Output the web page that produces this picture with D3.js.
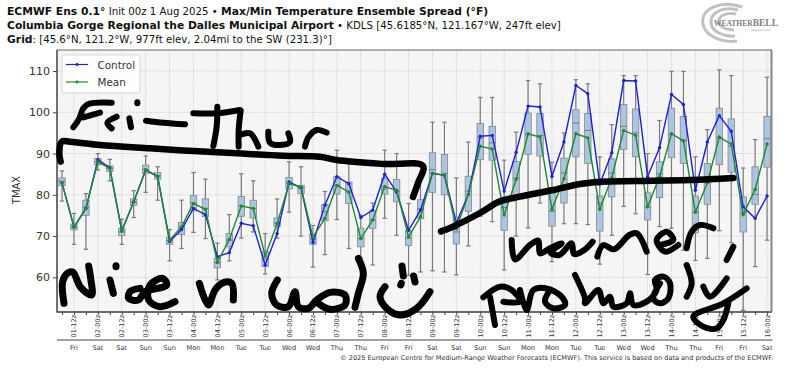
<!DOCTYPE html>
<html><head><meta charset="utf-8">
<script src="https://cdn.jsdelivr.net/npm/d3@7/dist/d3.min.js"></script>
<style>html,body{margin:0;padding:0;background:#fff}svg{display:block}text{font-family:"DejaVu Sans",sans-serif}</style>
</head><body><svg id="c" width="786" height="371"></svg>
<script>
const tickLabels=["01-12z","02-00z","02-12z","03-00z","03-12z","04-00z","04-12z","05-00z","05-12z","06-00z","06-12z","07-00z","07-12z","08-00z","08-12z","09-00z","09-12z","10-00z","10-12z","11-00z","11-12z","12-00z","12-12z","13-00z","13-12z","14-00z","14-12z","15-00z","15-12z","16-00z"];
const dayLabels=["Fri","Sat","Sat","Sun","Sun","Mon","Mon","Tue","Tue","Wed","Wed","Thu","Thu","Fri","Fri","Sat","Sat","Sun","Sun","Mon","Mon","Tue","Tue","Wed","Wed","Thu","Thu","Fri","Fri","Sat"];
const yTicks=[60,70,80,90,100,110];
const control=[82.9,72.2,76.7,88.5,86.6,71.3,78.3,86,84.5,68.7,71.6,76.7,75.2,65,66,73.1,72.5,63,70.6,83.1,81.7,68.5,77.5,84.4,82.7,74.5,76.3,85,80.7,71.4,76.3,85.2,84.7,73.2,80.1,94.2,94.4,80.9,90.3,101.5,101.3,84.5,92.8,106.5,104.5,82.5,90.2,107.7,107.6,84.4,91.4,104.3,101.9,81.1,92.8,99.2,95.4,77.1,74.3,79.7];
const mean=[82.9,72.2,76.7,88,86.4,71.3,78.3,86,84.5,69,72.3,77.9,76.5,63.6,69.2,77.3,76.7,65.2,73,82.7,81.9,69.7,74.3,82.3,80.7,69.4,73.9,82,81.1,69.8,74.7,85.2,84.7,71.8,80.1,91.8,91.1,75.1,83.7,94.8,94,76.5,83.9,94.8,93.8,76.5,84.1,95.6,94.4,77.1,84.4,94.8,93.1,75.8,82.9,94,92.3,75.2,81.3,92.3];
const median=[83.3,72.2,77,88,86.4,71,78.2,86.2,84.6,68.9,72,78,76.7,63.6,69,77.3,76.7,64.5,73.2,82.7,81.6,69.3,75.9,82.3,80.7,69.4,73.9,81.4,80.9,69.5,76.6,86.1,85.2,71,80.9,93.8,92.6,76.9,84.1,94.6,94.4,76,85.3,97.4,95.6,78,85.3,96.6,95,77.1,85.1,94.6,93.1,75.8,82.9,93.8,91.8,75.6,80.1,93.6];
const q1=[82.2,71.5,75,87.3,85.7,70.1,77.4,85.2,83.8,68,70.4,76.1,74.7,62.3,67.4,74.8,74.4,62.6,72.3,81.4,80.3,68,73.7,80.2,77.9,67.4,71.9,80.2,78.3,67.7,74.2,80.6,80,68.1,76,88.5,88.4,71.4,79.8,89.8,89.4,72.4,78,89.2,87.6,71.2,79.5,91,89.2,73.9,79.3,89,87.6,70.8,77.7,87.3,85.5,71,77.7,86.7];
const q3=[84.1,72.9,78.7,88.8,87,71.9,79,87.2,85.4,69.7,73.3,79.8,79,64.7,70.6,79.6,78.7,66.2,74.4,84.2,82.3,70.6,77.7,84.4,83.1,71.9,76.1,84,83.7,71.3,78.8,90.2,89.8,74.6,84.5,97.3,96.6,79.4,88.1,99.8,99.7,80.5,88.9,100.6,99.7,79.7,88.7,101.9,100.8,80.5,88,101,99,79.7,87.6,101,98.4,79.5,86.8,99];
const whiskLow=[78.5,68,66.8,86,83.4,68,74.5,80.6,78.7,64,67,70.9,69.4,59.4,64,69.5,71,60.8,69.5,75.8,70,62.5,65.5,74,67,64.7,63,74.3,70.2,60.5,61.3,61.6,61.3,60.6,67.6,74.8,73.5,61.8,70,72,78,63.8,73,73,72.8,63.2,70.2,77.2,75.4,60.7,72.3,71.9,66.6,64.1,64.6,71.3,68.4,52,62.6,69];
const whiskHigh=[85.8,75.5,80.3,90,88.6,74.1,81,89.4,86.8,71.6,78.7,85.4,83.8,68.3,75.2,85.1,83.4,70.6,79,88,86.8,72.6,80.8,90.8,88,75,78,90.8,90,77.9,84,97.6,97.6,84.1,92.8,103.6,103.6,88.4,95.2,107.7,106.9,87.9,95,107.9,106.9,89.2,97,108.9,108.9,90,98,109.9,109.9,89.2,95.8,110.3,108.9,86.5,93.4,108.5];

// Hand-drawn annotations, traced in reference crops: each entry is a crop origin then pen strokes.
const inkBracket=[[50,90],[[32,215],[28,190],[35,155],[60,155],[150,165],[300,175],[430,183],[560,190],[700,197],[810,200],[860,210],[1000,222],[1119,228],[1104,279],[1089,321]]];
const inkFriThur=[[50,90],[[70,112],[88,85],[100,55],[115,42],[185,38]],[[100,82],[150,68]],[[185,115],[172,98],[200,80]],[[243,112],[238,85]],[[262,37],[262,40]],[[288,92],[340,98],[405,103]],[[430,70],[500,70],[570,60]],[[502,50],[500,110],[490,168]],[[572,62],[566,120],[566,170]],[[570,135],[600,130],[625,170]],[[655,125],[660,158],[690,165],[720,155],[715,130]],[[765,170],[775,142],[800,120],[830,128]]];
const inkNice=[[50,250],[[42,160],[38,95],[52,70],[68,66],[92,112],[125,135],[122,85],[116,48]],[[190,130],[180,90]],[[198,47],[198,50]],[[270,115],[240,125],[236,145],[265,150],[285,125],[350,105],[338,85],[300,105],[296,150],[330,170],[375,155]],[[448,100],[475,165],[495,120],[520,98],[545,100],[550,150]],[[682,90],[665,130],[680,165],[715,170],[735,125],[745,170],[775,175],[800,150],[840,127],[885,135],[885,165],[840,178],[805,160]],[[925,25],[940,70],[925,130],[915,172]],[[1056,48],[1060,78]],[[1091,78],[1095,96]],[[1052,105],[1054,100]],[[1005,110],[990,140],[1010,175],[1050,195],[1100,175],[1140,125]]];
const inkWarmLine=[[470,190],[[-87,124],[-51,110],[30,69],[90,34],[150,20],[250,0],[330,-18],[390,-25],[500,-27],[660,-30],[790,-36]]];
const inkWarmer=[[470,190],[[125,150],[135,208],[180,165],[205,152],[210,190],[240,175],[275,160],[242,188],[268,195],[305,160],[312,192],[340,182],[368,155]],[[382,200],[400,165],[432,178],[478,135],[500,130],[530,185]],[[570,165],[610,150],[590,125],[560,150],[585,185],[625,165]],[[650,175],[665,125],[690,105],[730,115]],[[790,170],[770,210]]];
const inkProbably=[[470,190],[[40,322],[90,290],[125,300],[150,335],[100,335]],[[60,320],[75,405]],[[150,300],[170,360],[190,300],[230,295],[275,320],[285,345],[250,355],[225,335],[240,300]],[[315,255],[345,325],[345,340],[385,300],[400,340],[420,320],[430,350],[470,340],[480,310],[490,345],[530,335],[560,300],[555,270],[580,260],[600,280],[595,325],[570,340],[550,325],[570,280]],[[650,225],[665,280],[650,320]],[[700,290],[720,320],[770,265]],[[830,295],[760,340],[670,380],[700,410],[740,415],[760,390],[775,340]]];

const svg=d3.select("#c");
const pLeft=57,pRight=771.5,pTop=50,pBottom=312;
const n=control.length,idx=d3.range(n);
const x=d3.scaleLinear().domain([-0.42,59.37]).range([pLeft,pRight]);
const y=d3.scaleLinear().domain([51.6,115.1]).range([pBottom,pTop]);

svg.append("rect").attr("x",pLeft).attr("y",pTop).attr("width",pRight-pLeft).attr("height",pBottom-pTop).attr("fill","#f5f5f5");
const labelIdx=tickLabels.map((_,k)=>2*k+1);
svg.append("g").selectAll("line").data(labelIdx).join("line").attr("x1",d=>x(d)).attr("x2",d=>x(d)).attr("y1",pTop).attr("y2",pBottom).attr("stroke","#cfcfcf").attr("stroke-dasharray","1.2,1.2");
svg.append("g").selectAll("line").data(yTicks).join("line").attr("x1",pLeft).attr("x2",pRight).attr("y1",d=>y(d)).attr("y2",d=>y(d)).attr("stroke","#cfcfcf").attr("stroke-dasharray","1.2,1.2");

// whiskers
const wh=svg.append("g").attr("stroke","#7a7a7a").attr("stroke-width",1.2);
wh.selectAll("line.v").data(idx).join("line").attr("class","v").attr("x1",i=>x(i)).attr("x2",i=>x(i)).attr("y1",i=>y(whiskLow[i])).attr("y2",i=>y(whiskHigh[i]));
wh.selectAll("line.h").data(idx).join("line").attr("class","h").attr("x1",i=>x(i)-2.2).attr("x2",i=>x(i)+2.2).attr("y1",i=>y(whiskHigh[i])).attr("y2",i=>y(whiskHigh[i]));
wh.selectAll("line.l").data(idx).join("line").attr("class","l").attr("x1",i=>x(i)-2.2).attr("x2",i=>x(i)+2.2).attr("y1",i=>y(whiskLow[i])).attr("y2",i=>y(whiskLow[i]));
// boxes
svg.append("g").selectAll("rect").data(idx).join("rect").attr("x",i=>x(i)-3.2).attr("width",6.4).attr("y",i=>y(q3[i])).attr("height",i=>y(q1[i])-y(q3[i])).attr("fill","#adc4e0").attr("stroke","#808890").attr("stroke-width",0.8);
svg.append("g").selectAll("line").data(idx).join("line").attr("x1",i=>x(i)-3.2).attr("x2",i=>x(i)+3.2).attr("y1",i=>y(median[i])).attr("y2",i=>y(median[i])).attr("stroke","#5f6670").attr("stroke-width",0.8);

// lines
function series(vals,col){
  const l=d3.line().x(i=>x(i)).y(i=>y(vals[i]));
  svg.append("path").datum(idx).attr("d",l).attr("fill","none").attr("stroke",col).attr("stroke-width",1.4);
  svg.append("g").selectAll("circle").data(idx).join("circle").attr("cx",i=>x(i)).attr("cy",i=>y(vals[i])).attr("r",1.7).attr("fill",col);
}
series(control,"#1f1fd8");
series(mean,"#1d8a2e");

// frame
svg.append("rect").attr("x",pLeft).attr("y",pTop).attr("width",pRight-pLeft).attr("height",pBottom-pTop).attr("fill","none").attr("stroke","#666").attr("stroke-width",1);
svg.append("path").attr("d",`M${pLeft},${pTop}V${pBottom}H${pRight}`).attr("fill","none").attr("stroke","#555").attr("stroke-width",1.4);
svg.append("line").attr("x1",pRight).attr("x2",pRight).attr("y1",pTop).attr("y2",pBottom).attr("stroke","#888").attr("stroke-width",2);

// axes
const ya=svg.append("g").attr("transform",`translate(${pLeft},0)`).call(d3.axisLeft(y).tickValues(yTicks).tickSize(4).tickPadding(3));
ya.select(".domain").remove();ya.selectAll("line").attr("stroke","#444");ya.selectAll("text").attr("font-size",11).attr("fill","#333");
const xa=svg.append("g").attr("transform",`translate(0,${pBottom})`).call(d3.axisBottom(x).tickValues(idx).tickSize(3).tickFormat(""));
xa.select(".domain").remove();xa.selectAll("line").attr("stroke","#444");
svg.append("g").selectAll("text").data(tickLabels).join("text").attr("transform",(d,k)=>`translate(${x(labelIdx[k])+2.5},337.5) rotate(-90)`).attr("font-size",6.6).attr("fill","#333").text(d=>d);
svg.append("line").attr("x1",pLeft).attr("x2",pRight+1).attr("y1",340).attr("y2",340).attr("stroke","#444").attr("stroke-width",1);
svg.append("g").selectAll("text").data(dayLabels).join("text").attr("x",(d,k)=>x(labelIdx[k])).attr("y",350).attr("text-anchor","middle").attr("font-size",6.6).attr("fill","#333").text(d=>d);
svg.append("text").attr("x",773).attr("y",360).attr("text-anchor","end").attr("font-size",6.55).attr("fill","#333").text("© 2025 European Centre for Medium-Range Weather Forecasts (ECMWF). This service is based on data and products of the ECMWF.");
svg.append("text").attr("transform","translate(20,190) rotate(-90)").attr("text-anchor","middle").attr("font-size",10).attr("fill","#333").text("TMAX");

// titles
function title(yPos,parts){
  const t=svg.append("text").attr("x",7).attr("y",yPos).attr("fill","#111");
  parts.forEach(p=>t.append("tspan").attr("font-weight",p[1]?"bold":"normal").attr("font-size",p[1]?10.75:10.2).text(p[0]));
}
title(14.5,[["ECMWF Ens 0.1°",1],[" Init 00z 1 Aug 2025 • ",0],["Max/Min Temperature Ensemble Spread (°F)",1]]);
title(28.5,[["Columbia Gorge Regional the Dalles Municipal Airport",1],[" • KDLS [45.6185°N, 121.167°W, 247ft elev]",0]]);
title(42.5,[["Grid",1],[": [45.6°N, 121.2°W, 977ft elev, 2.04mi to the SW (231.3)°]",0]]);

// legend
svg.append("rect").attr("x",62).attr("y",55).attr("width",78).attr("height",38).attr("rx",2).attr("fill","#fff").attr("fill-opacity",0.85).attr("stroke","#d5d5d5");
[["Control","#1f1fd8",64.5],["Mean","#1d8a2e",82]].forEach(r=>{
  svg.append("line").attr("x1",66).attr("x2",88).attr("y1",r[2]).attr("y2",r[2]).attr("stroke",r[1]).attr("stroke-width",1.2);
  svg.append("circle").attr("cx",77).attr("cy",r[2]).attr("r",1.4).attr("fill",r[1]);
  svg.append("text").attr("x",97.5).attr("y",r[2]+4).attr("font-size",10.4).attr("fill","#333").text(r[0]);
});

// logo
const logo=svg.append("g").attr("fill","none").attr("stroke","#c0c0c0");
logo.append("path").attr("d","M742,7C722,0 700,8 703,24C705,36 722,43 737,41").attr("stroke-width",3);
logo.append("path").attr("d","M738,10C724,6 710,12 711,23C712,32 724,37 735,36").attr("stroke-width",3);
logo.append("path").attr("d","M736,14C726,12 718,16 719,22C720,27 726,30 734,30").attr("stroke-width",3);
const lt=svg.append("text").attr("x",714).attr("y",26).attr("fill","#808080").style("font-family","'Liberation Serif',serif").attr("font-weight","bold");
lt.append("tspan").attr("font-size",7.5).text("WEATHER");
lt.append("tspan").attr("font-size",9.5).text("BELL");
svg.append("text").attr("x",771).attr("y",31).attr("text-anchor","end").attr("font-size",3).attr("fill","#999").text("Analytics LLC");

// ink
const pen=d3.line().x(d=>d[0]).y(d=>d[1]).curve(d3.curveCatmullRom.alpha(0.5));
const inkG=svg.append("g").attr("fill","none").attr("stroke","#000").attr("stroke-linecap","round").attr("stroke-linejoin","round");
inkG.append("title").text("Handwritten notes: Fri – Thur, Nice n cool :), warmer, probably");
[[inkBracket,6.5],[inkFriThur,6],[inkNice,7],[inkWarmLine,6.5],[inkWarmer,6],[inkProbably,6]].forEach(([set,w])=>{
  const [o,...strokes]=set;
  const sx=d3.scaleLinear().domain([0,3]).range([o[0],o[0]+1]);
  const sy=d3.scaleLinear().domain([0,3]).range([o[1],o[1]+1]);
  strokes.forEach(s=>inkG.append("path").attr("stroke-width",w).attr("d",pen(s.map(p=>[sx(p[0]),sy(p[1])]))));
});
</script></body></html>
